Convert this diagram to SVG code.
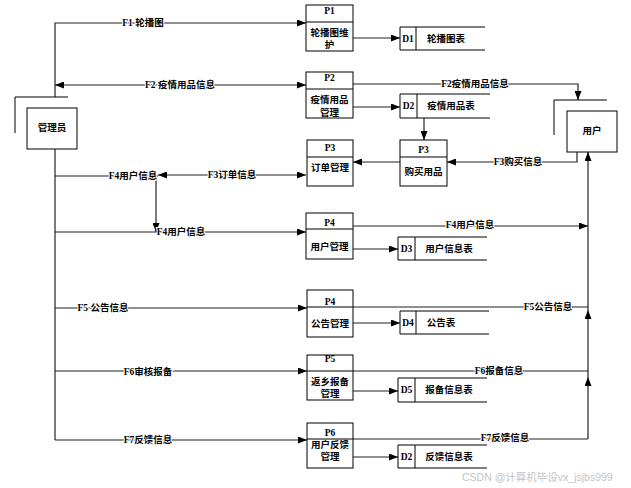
<svg xmlns="http://www.w3.org/2000/svg" width="631" height="488" viewBox="0 0 631 488">
<style>
text{font-family:"Liberation Serif","Noto Sans CJK SC",serif;font-size:9.5px;font-weight:bold;fill:#000;text-anchor:middle;dominant-baseline:central}
.box{fill:#fff;stroke:#000;stroke-width:1}
.ln{fill:none;stroke:#222;stroke-width:1.2}
.st{fill:none;stroke:#000;stroke-width:1}
.lbl{stroke:#fff;stroke-width:2;paint-order:stroke}
.wm{font-family:"Liberation Sans","Noto Sans CJK SC",sans-serif;font-size:10.5px;font-weight:normal;fill:#c4c4c4;text-anchor:start}
</style>
<defs>
<marker id="ah" markerWidth="9" markerHeight="7" refX="9" refY="3.5" orient="auto-start-reverse" markerUnits="userSpaceOnUse">
<path d="M0,0 L9,3.5 L0,7 Z" fill="#000"/>
</marker>
</defs>
<rect width="631" height="488" fill="#fff"/>

<g id="connectors">
<path class="ln" d="M55,97 V23 H306" marker-end="url(#ah)"/>
<path class="ln" d="M55,85 H306" marker-start="url(#ah)" marker-end="url(#ah)"/>
<path class="ln" d="M353,38 H400" marker-end="url(#ah)"/>
<path class="ln" d="M353,84 H578 V100" marker-end="url(#ah)"/>
<path class="ln" d="M353,107 H400" marker-end="url(#ah)"/>
<path class="ln" d="M424,118 V140" marker-end="url(#ah)"/>
<path class="ln" d="M577,152 V162 H447" marker-end="url(#ah)"/>
<path class="ln" d="M400,162 H353" marker-end="url(#ah)"/>
<path class="ln" d="M55,149 V440"/>
<path class="ln" d="M55,176 H158"/>
<path class="ln" d="M158,175 H306" marker-start="url(#ah)" marker-end="url(#ah)"/>
<path class="ln" d="M156,176 V232" marker-end="url(#ah)"/>
<path class="ln" d="M55,232 H306" marker-end="url(#ah)"/>
<path class="ln" d="M353,226 H588" marker-end="url(#ah)"/>
<path class="ln" d="M353,249 H398" marker-end="url(#ah)"/>
<path class="ln" d="M55,308 H307" marker-end="url(#ah)"/>
<path class="ln" d="M353,307 H588"/>
<path class="ln" d="M353,323 H400" marker-end="url(#ah)"/>
<path class="ln" d="M55,371 H307" marker-end="url(#ah)"/>
<path class="ln" d="M353,371 H588"/>
<path class="ln" d="M353,391 H398" marker-end="url(#ah)"/>
<path class="ln" d="M55,440 H307" marker-end="url(#ah)"/>
<path class="ln" d="M353,439 H588"/>
<path class="ln" d="M353,457 H398" marker-end="url(#ah)"/>
<path class="ln" d="M588,439 V377" marker-end="url(#ah)"/>
<path class="ln" d="M588,377 V310" marker-end="url(#ah)"/>
<path class="ln" d="M588,310 V226"/>
<path class="ln" d="M588,226 V152" marker-end="url(#ah)"/>

<text class="lbl" x="143" y="23">F1 轮播图</text>
<text class="lbl" x="180" y="85">F2 疫情用品信息</text>
<text class="lbl" x="475" y="84">F2疫情用品信息</text>
<text class="lbl" x="518" y="162">F3购买信息</text>
<text class="lbl" x="133" y="176">F4用户信息</text>
<text class="lbl" x="232" y="175">F3订单信息</text>
<text class="lbl" x="181" y="232">F4用户信息</text>
<text class="lbl" x="470" y="225">F4用户信息</text>
<text class="lbl" x="103" y="308">F5 公告信息</text>
<text class="lbl" x="548" y="307">F5公告信息</text>
<text class="lbl" x="148" y="372">F6审核报备</text>
<text class="lbl" x="499" y="371">F6报备信息</text>
<text class="lbl" x="148" y="440">F7反馈信息</text>
<text class="lbl" x="505" y="438">F7反馈信息</text>
</g>

<g id="admin">
<path class="st" d="M15,133 V97 H68"/>
<rect class="box" x="27" y="108" width="50" height="41"/>
<text x="52" y="128">管理员</text>
</g>

<g id="user">
<path class="st" d="M554,135 V100 H607"/>
<rect class="box" x="567" y="111" width="50" height="41"/>
<text x="592" y="131">用户</text>
</g>

<g id="p1">
<rect class="box" x="306" y="5" width="47" height="46"/>
<path class="st" d="M306,22 H353"/>
<text x="329.5" y="11">P1</text>
<text x="329.5" y="33">轮播图维</text>
<text x="329.5" y="45">护</text>
</g>

<g id="p2">
<rect class="box" x="306" y="72" width="47" height="46"/>
<path class="st" d="M306,89 H353"/>
<text x="329.5" y="78">P2</text>
<text x="329.5" y="100">疫情用品</text>
<text x="329.5" y="113">管理</text>
</g>

<g id="p3-order">
<rect class="box" x="307" y="140" width="46" height="46"/>
<path class="st" d="M307,157 H353"/>
<text x="330" y="148">P3</text>
<text x="330" y="168">订单管理</text>
</g>

<g id="p3-buy">
<rect class="box" x="400" y="140" width="47" height="46"/>
<path class="st" d="M400,157 H447"/>
<text x="423.5" y="150">P3</text>
<text x="423.5" y="172">购买用品</text>
</g>

<g id="p4-user">
<rect class="box" x="306" y="213" width="47" height="46"/>
<path class="st" d="M306,229 H353"/>
<text x="329.5" y="223">P4</text>
<text x="329.5" y="247">用户管理</text>
</g>

<g id="p4-notice">
<rect class="box" x="307" y="290" width="46" height="47"/>
<path class="st" d="M307,307 H353"/>
<text x="330" y="302">P4</text>
<text x="330" y="324">公告管理</text>
</g>

<g id="p5">
<rect class="box" x="307" y="355" width="46" height="45"/>
<path class="st" d="M307,371 H353"/>
<text x="330" y="359">P5</text>
<text x="330" y="382">返乡报备</text>
<text x="330" y="394">管理</text>
</g>

<g id="p6">
<rect class="box" x="307" y="423" width="46" height="45"/>
<path class="st" d="M307,439 H353"/>
<text x="330" y="433">P6</text>
<text x="330" y="445">用户反馈</text>
<text x="330" y="457">管理</text>
</g>

<g id="d1">
<path class="st" d="M485,27 H400 V50 H485 M416,27 V50"/>
<text x="408" y="39">D1</text>
<text x="446" y="39">轮播图表</text>
</g>

<g id="d2">
<path class="st" d="M490,94 H400 V118 H490 M417,94 V118"/>
<text x="408.5" y="106">D2</text>
<text x="451" y="106">疫情用品表</text>
</g>

<g id="d3">
<path class="st" d="M487,237 H398 V260 H487 M415,237 V260"/>
<text x="406.5" y="248.5">D3</text>
<text x="449" y="248.5">用户信息表</text>
</g>

<g id="d4">
<path class="st" d="M489,311 H400 V334 H489 M416,311 V334"/>
<text x="408" y="322.5">D4</text>
<text x="441" y="322.5">公告表</text>
</g>

<g id="d5">
<path class="st" d="M487,378 H398 V402 H487 M415,378 V402"/>
<text x="406.5" y="390">D5</text>
<text x="449" y="390">报备信息表</text>
</g>

<g id="d2-feedback">
<path class="st" d="M487,445 H398 V468 H487 M415,445 V468"/>
<text x="406.5" y="456.5">D2</text>
<text x="449" y="456.5">反馈信息表</text>
</g>

<text class="wm" x="462" y="477">CSDN @计算机毕设vx_jsjbs999</text>
</svg>
